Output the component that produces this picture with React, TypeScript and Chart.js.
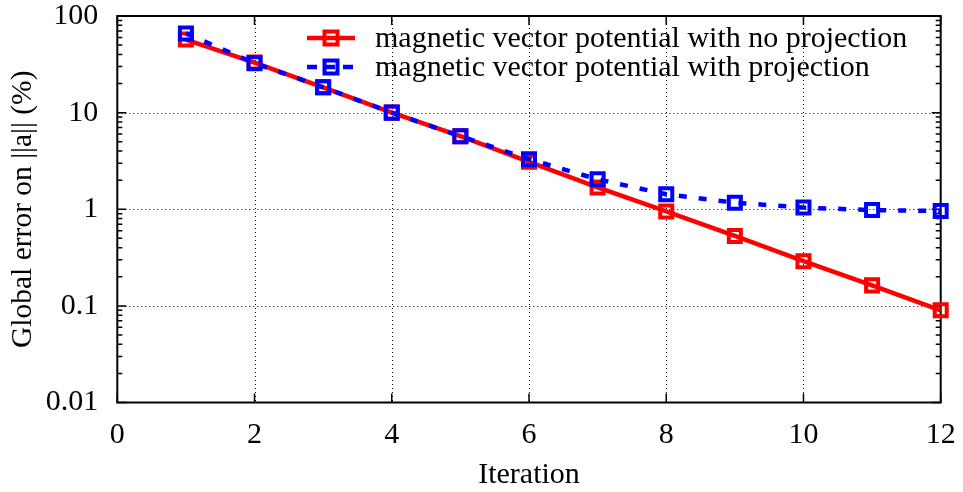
import React, { useEffect, useRef } from "react";
import { Chart, registerables } from "chart.js";

Chart.register(...registerables);

const iterations = [1, 2, 3, 4, 5, 6, 7, 8, 9, 10, 11, 12];
const noProjection = [57, 33, 18.3, 10, 5.7, 3.1, 1.68, 0.95, 0.53, 0.29, 0.163, 0.09];
const withProjection = [66, 32.5, 18.3, 10, 5.7, 3.3, 2.04, 1.43, 1.17, 1.04, 0.98, 0.96];
const xTickValues = [0, 2, 4, 6, 8, 10, 12];
const yTickValues = [0.01, 0.1, 1, 10, 100];
const legendLabels = [
  "magnetic vector potential with no projection",
  "magnetic vector potential with projection",
];
const xTitle = "Iteration";
const yTitle = "Global error on ||a|| (%)";

const FONT = "Liberation Serif";
const FSIZE = 30;
const RED = "#ff0000";
const BLUE = "#0000ff";

const framePlugin = {
  id: "gnuplotFrame",
  beforeDatasetsDraw(chart: any) {
    const { ctx, chartArea: a, scales } = chart;
    const xs = scales.x;
    const ys = scales.y;
    ctx.save();
    ctx.strokeStyle = "#000";
    ctx.lineWidth = 1;
    ctx.setLineDash([1, 3]);
    xTickValues.forEach((v) => {
      const px = Math.round(xs.getPixelForValue(v)) + 0.5;
      if (px <= a.left + 2 || px >= a.right - 2) return;
      ctx.beginPath();
      ctx.moveTo(px, a.top);
      ctx.lineTo(px, a.bottom);
      ctx.stroke();
    });
    yTickValues.forEach((v) => {
      const py = Math.round(ys.getPixelForValue(v)) + 0.5;
      if (py <= a.top + 2 || py >= a.bottom - 2) return;
      ctx.beginPath();
      ctx.moveTo(a.left, py);
      ctx.lineTo(a.right, py);
      ctx.stroke();
    });
    ctx.setLineDash([]);
    ctx.lineWidth = 1.5;
    const major = 9;
    const minor = 5;
    xTickValues.forEach((v) => {
      const px = xs.getPixelForValue(v);
      ctx.beginPath();
      ctx.moveTo(px, a.bottom);
      ctx.lineTo(px, a.bottom - major);
      ctx.moveTo(px, a.top);
      ctx.lineTo(px, a.top + major);
      ctx.stroke();
    });
    for (let d = 0; d < yTickValues.length; d++) {
      const base = yTickValues[d];
      const py = ys.getPixelForValue(base);
      ctx.beginPath();
      ctx.moveTo(a.left, py);
      ctx.lineTo(a.left + major, py);
      ctx.moveTo(a.right, py);
      ctx.lineTo(a.right - major, py);
      ctx.stroke();
      if (d < yTickValues.length - 1) {
        for (let m = 2; m <= 9; m++) {
          const pm = ys.getPixelForValue(base * m);
          ctx.beginPath();
          ctx.moveTo(a.left, pm);
          ctx.lineTo(a.left + minor, pm);
          ctx.moveTo(a.right, pm);
          ctx.lineTo(a.right - minor, pm);
          ctx.stroke();
        }
      }
    }
    ctx.lineWidth = 2;
    ctx.strokeRect(a.left, a.top, a.right - a.left, a.bottom - a.top);
    ctx.restore();
  },
  afterDatasetsDraw(chart: any) {
    const { ctx } = chart;
    ctx.save();
    const rows = [
      { y: 38, color: RED, dash: [] as number[] },
      { y: 67, color: BLUE, dash: [10, 8] },
    ];
    rows.forEach((r, i) => {
      ctx.strokeStyle = r.color;
      ctx.lineWidth = 4.5;
      ctx.setLineDash(r.dash);
      ctx.beginPath();
      ctx.moveTo(307, r.y);
      ctx.lineTo(355, r.y);
      ctx.stroke();
      ctx.setLineDash([]);
      ctx.lineWidth = 4;
      ctx.strokeRect(331 - 6.5, r.y - 6.5, 13, 13);
      ctx.fillStyle = "#000";
      ctx.font = `${FSIZE}px "${FONT}"`;
      ctx.textBaseline = "middle";
      ctx.textAlign = "left";
      ctx.fillText(legendLabels[i], 375, r.y + 1);
    });
    ctx.restore();
  },
};

export default function App() {
  const ref = useRef<HTMLCanvasElement | null>(null);
  useEffect(() => {
    if (!ref.current) return;
    const chart = new Chart(ref.current, {
      type: "line",
      data: {
        datasets: [
          {
            label: legendLabels[1],
            data: iterations.map((x, i) => ({ x, y: withProjection[i] })),
            borderColor: BLUE,
            borderWidth: 4.5,
            borderDash: [8, 12],
            pointStyle: "rect",
            pointRadius: 8.5,
            pointBorderWidth: 4,
            pointBorderColor: BLUE,
            pointBackgroundColor: "rgba(0,0,0,0)",
            tension: 0,
            clip: false as any,
            order: 0,
          },
          {
            label: legendLabels[0],
            data: iterations.map((x, i) => ({ x, y: noProjection[i] })),
            borderColor: RED,
            borderWidth: 4.5,
            pointStyle: "rect",
            pointRadius: 8.5,
            pointBorderWidth: 4,
            pointBorderColor: RED,
            pointBackgroundColor: "rgba(0,0,0,0)",
            tension: 0,
            clip: false as any,
            order: 1,
          },
        ],
      },
      options: {
        animation: false,
        responsive: false,
        events: [],
        layout: { padding: { left: 0, top: 16, right: 22.3, bottom: 0 } },
        plugins: { legend: { display: false }, tooltip: { enabled: false } },
        scales: {
          x: {
            type: "linear",
            min: 0,
            max: 12,
            afterBuildTicks: (s: any) => {
              s.ticks = xTickValues.map((v) => ({ value: v }));
            },
            afterFit: (s: any) => {
              s.height = 89.5;
              s.paddingLeft = 0;
              s.paddingRight = 0;
            },
            grid: { display: false, drawTicks: false },
            border: { display: false },
            ticks: {
              autoSkip: false,
              maxRotation: 0,
              padding: 15,
              color: "#000",
              font: { family: FONT, size: FSIZE },
              callback: (v: any) => String(v),
            },
            title: {
              display: true,
              text: xTitle,
              color: "#000",
              font: { family: FONT, size: FSIZE, lineHeight: 1.1 },
              padding: { top: 0, bottom: 0 },
            },
          },
          y: {
            type: "logarithmic",
            min: 0.01,
            max: 100,
            afterBuildTicks: (s: any) => {
              s.ticks = yTickValues.map((v) => ({ value: v }));
            },
            afterFit: (s: any) => {
              s.width = 117.3;
              s.paddingTop = 0;
              s.paddingBottom = 0;
            },
            grid: { display: false, drawTicks: false },
            border: { display: false },
            ticks: {
              autoSkip: false,
              padding: 19,
              color: "#000",
              font: { family: FONT, size: FSIZE },
              callback: (v: any) => String(v),
            },
            title: {
              display: true,
              text: yTitle,
              color: "#000",
              font: { family: FONT, size: 29.5 },
              padding: { top: 6, bottom: 0 },
            },
          },
        },
      },
      plugins: [framePlugin],
    });
    return () => chart.destroy();
  }, []);
  return (
    <div style={{ position: "fixed", left: 0, top: 0, width: 963, height: 492, background: "#fff" }}>
      <canvas ref={ref} width={963} height={492} style={{ display: "block", width: 963, height: 492 }} />
    </div>
  );
}
